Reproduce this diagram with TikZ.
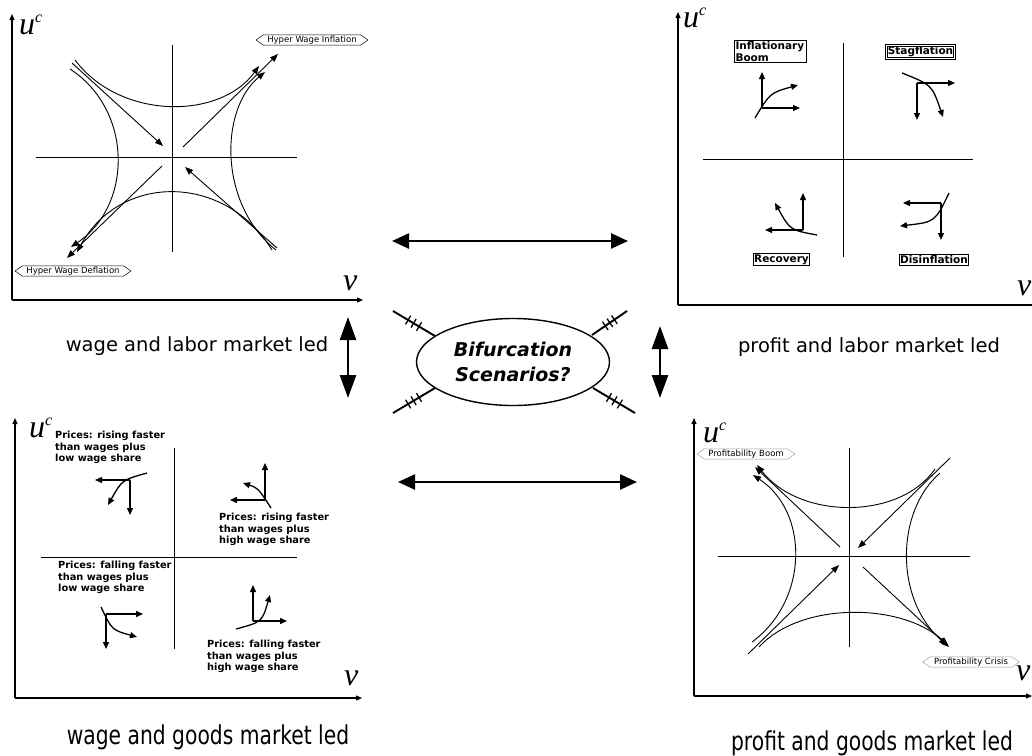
\documentclass[tikz,border=0pt]{standalone}
\usepackage{fontspec}
\setmainfont{Liberation Serif}
\setsansfont{DejaVu Sans}
\newfontfamily\narrowfont[FakeStretch=0.78]{DejaVu Sans}
\usetikzlibrary{arrows.meta,shapes.symbols,shapes.geometric,calc}
\newcommand{\uclbl}{u\raisebox{12pt}{\fontsize{16}{16}\selectfont c}}
\begin{document}
\begin{tikzpicture}[x=1pt,y=-1pt,
  axis/.style={line width=1.1pt,-{Triangle[length=6pt,width=5pt]}},
  cross/.style={line width=0.7pt},
  flow/.style={line width=0.9pt,-{Triangle[length=8pt,width=6pt]}},
  glyph/.style={line width=1.3pt,-{Triangle[length=7pt,width=6pt]}},
  bigh/.style={line width=2.5pt,{Triangle[length=17pt,width=15pt]}-{Triangle[length=17pt,width=15pt]}},
  bigv/.style={line width=2.5pt,{Triangle[length=23pt,width=16pt]}-{Triangle[length=23pt,width=16pt]}},
  tag/.style={draw,signal,signal to=west and east,signal pointer angle=70,inner xsep=4pt,inner ysep=1pt,font=\fontsize{8.5}{9}\selectfont\sffamily,line width=0.5pt},
  qbox/.style={draw,line width=0.9pt,font=\fontsize{10.5}{12}\selectfont\sffamily\bfseries,inner sep=1pt,align=left},
  ptext/.style={anchor=north west,align=left,inner sep=0pt,font=\fontsize{9.8}{11.5}\selectfont\sffamily\bfseries},
  axlbl/.style={font=\fontsize{32}{32}\selectfont\itshape,inner sep=0pt,anchor=base west},
  mlbl/.style={font=\fontsize{19.5}{22}\selectfont\sffamily,inner sep=0pt},
  glbl/.style={font=\fontsize{26}{28}\selectfont\narrowfont,inner sep=0pt},
  hatch/.style={line width=1.9pt},
  tick/.style={line width=1.3pt}
]
\useasboundingbox (0,0) rectangle (1032,755);
\fill[white] (0,0) rectangle (1032,755);

% ---------------- top-left panel ----------------
\draw[axis] (12,300) -- (12,14);
\draw[axis] (12,300) -- (363,300);
\node[axlbl] (tlu) at (19,34) {\uclbl};
\node[axlbl] (tlv) at (343,290) {v};
\draw[cross] (172,45) -- (172,252);
\draw[cross] (36,157) -- (297,157);
\draw[flow] (75,60) .. controls (120,120) and (220,120) .. (259,66);
\draw[flow] (70,69) .. controls (133,110) and (133,205) .. (71,247);
\draw[flow] (72,63) -- (163,146);
\draw[flow] (183,147) -- (278,54);
\draw[flow] (276,250) .. controls (219,205) and (219,110) .. (265,72);
\draw[flow] (277,248) -- (185,167);
\draw[flow] (162,166) -- (67,258);
\draw[flow] (272,250) .. controls (225,173) and (120,173) .. (77,252);
\node[tag] (hwi) at (312,40) {Hyper Wage Inflation};
\node[tag] (hwd) at (73,271) {Hyper Wage Deflation};

% ---------------- top-right panel ----------------
\draw[axis] (678,305) -- (678,12);
\draw[axis] (678,305) -- (1045,305);
\node[axlbl] (tru) at (683,27) {\uclbl};
\node[axlbl] (trv) at (1017,295) {v};
\draw[cross] (843,43) -- (843,257);
\draw[cross] (703,159) -- (973,159);
\node[qbox,text width=70pt] (ib) at (770.5,51.5) {Inflationary\\Boom};
\node[qbox,double,double distance=1.2pt] (sg) at (920.5,52) {Stagflation};
\node[qbox] (rc) at (781.5,259.5) {Recovery};
\node[qbox] (di) at (934,260) {Disinflation};
% inflationary boom glyph
\coordinate (g1) at (762,108);
\draw[glyph] (g1) -- (762,72);
\draw[glyph] (g1) -- (800,108);
\draw[glyph] (755,118) .. controls (770,93) .. (798,85);
% stagflation glyph
\coordinate (g2) at (917,83);
\draw[glyph] (g2) -- (955,83);
\draw[glyph] (g2) -- (917,120);
\draw[glyph] (902,73) .. controls (932,85) .. (943,117);
% recovery glyph
\coordinate (g3) at (803,230);
\draw[glyph] (g3) -- (803,193);
\draw[glyph] (g3) -- (765,230);
\draw[glyph] (817,235) .. controls (790,230) .. (775,203);
% disinflation glyph
\coordinate (g4) at (941,203);
\draw[glyph] (g4) -- (903,203);
\draw[glyph] (g4) -- (941,240);
\draw[glyph] (949,193) .. controls (935,222) .. (900,226);

% ---------------- bottom-left panel ----------------
\draw[axis] (15,698) -- (15,418);
\draw[axis] (15,698) -- (362,698);
\node[axlbl] (blu) at (29,437) {\uclbl};
\node[axlbl] (blv) at (344,685) {v};
\draw[cross] (174,448) -- (174,649);
\draw[cross] (41,557) -- (297,557);
\node[ptext] (p1) at (55,431) {Prices: rising faster\\than wages plus\\low wage share};
\node[ptext] (p2) at (219,513) {Prices: rising faster\\than wages plus\\high wage share};
\node[ptext] (p3) at (58,561) {Prices: falling faster\\than wages plus\\low wage share};
\node[ptext] (p4) at (207,640) {Prices: falling faster\\than wages plus\\high wage share};
\coordinate (g5) at (130,480);
\draw[glyph] (g5) -- (95,480);
\draw[glyph] (g5) -- (130,515);
\draw[glyph] (147,473) .. controls (122,480) .. (108,505);
\coordinate (g6) at (265,500);
\draw[glyph] (g6) -- (265,463);
\draw[glyph] (g6) -- (230,500);
\draw[glyph] (271,508) .. controls (258,488) .. (243,483);
\coordinate (g7) at (106,614);
\draw[glyph] (g7) -- (143,614);
\draw[glyph] (g7) -- (106,649);
\draw[glyph] (101,607) .. controls (112,630) .. (137,637);
\coordinate (g8) at (253,621);
\draw[glyph] (g8) -- (253,585);
\draw[glyph] (g8) -- (287,621);
\draw[glyph] (236,629) .. controls (262,622) .. (270,595);

% ---------------- bottom-right panel ----------------
\draw[axis] (694,696) -- (694,418);
\draw[axis] (694,696) -- (1032,696);
\node[axlbl] (bru) at (703,442) {\uclbl};
\node[axlbl] (brv) at (1016,680) {v};
\draw[cross] (849,448) -- (849,647);
\draw[cross] (718,556) -- (970,556);
\draw[flow] (935,469) .. controls (900,520) and (800,520) .. (757,465);
\draw[flow] (752,642) .. controls (809,600) and (809,512) .. (753,475);
\draw[flow] (840,547) -- (755,467);
\draw[flow] (950,458) -- (858,548);
\draw[flow] (748,654) -- (839,565);
\draw[flow] (863,567) -- (949,647);
\draw[flow] (940,473) .. controls (895,512) and (895,600) .. (947,645);
\draw[flow] (759,647) .. controls (800,602) and (900,602) .. (948,645);
\node[tag,draw=gray!75] (pb) at (746,454) {Profitability Boom};
\node[tag,draw=gray!75] (pc) at (971,662) {Profitability Crisis};

% ---------------- middle ----------------
\coordinate (ha1) at (392,241); \coordinate (ha2) at (628,241);
\coordinate (hb1) at (398,482); \coordinate (hb2) at (637,482);
\coordinate (va1) at (348,317); \coordinate (va2) at (348,398);
\coordinate (vb1) at (660,326); \coordinate (vb2) at (660,398);
\draw[bigh] (ha1) -- (ha2);
\draw[bigh] (hb1) -- (hb2);
\draw[bigv] (va1) -- (va2);
\draw[bigv] (vb1) -- (vb2);

\node[draw,ellipse,line width=1.4pt,minimum width=193pt,minimum height=87pt,inner sep=0pt,align=center,
  font=\fontsize{19}{25}\selectfont\sffamily\bfseries\itshape] (bif) at (513,362) {Bifurcation\\Scenarios?};

\coordinate (s1o) at (393,311); \coordinate (s1i) at (435,336);
\coordinate (s2o) at (627,311); \coordinate (s2i) at (592,335);
\coordinate (s3o) at (393,413); \coordinate (s3i) at (435,388);
\coordinate (s4o) at (635,413); \coordinate (s4i) at (593,388);
\foreach \o/\i in {s1o/s1i,s2o/s2i,s3o/s3i,s4o/s4i}{
  \draw[hatch] (\o) -- (\i);
  \foreach \t in {0.36,0.49,0.62}{
    \draw[tick] ($($(\o)!\t!(\i)$)!5pt!90:(\i)$) -- ($($(\o)!\t!(\i)$)!5pt!-90:(\i)$);
  }
}

\node[mlbl] (l1) at (197,346) {wage and labor market led};
\node[mlbl] (l2) at (869,347) {profit and labor market led};
\node[glbl] (l3) at (208,737) {wage and goods market led};
\node[glbl] (l4) at (872,743) {profit and goods market led};
\end{tikzpicture}
\end{document}
